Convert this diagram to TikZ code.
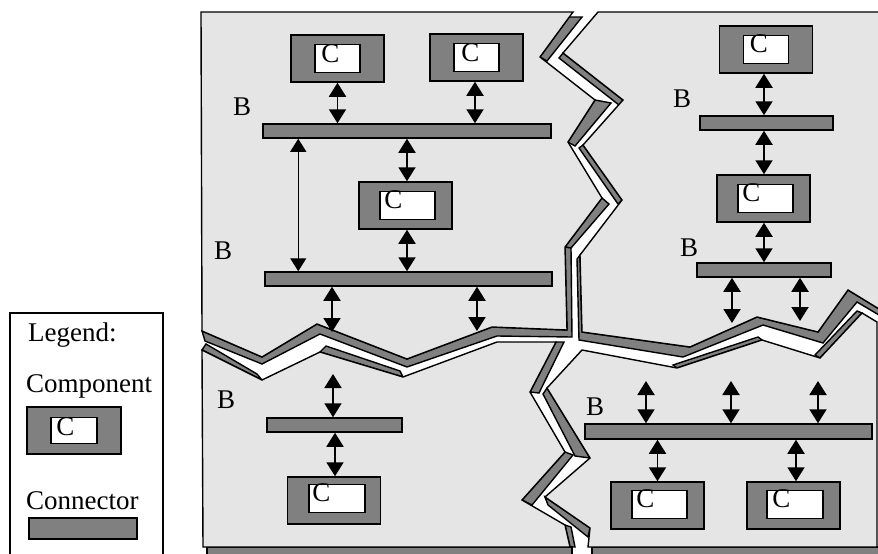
\documentclass[tikz,border=0pt]{standalone}
\usepackage{fontspec}
\setmainfont{Liberation Serif}
\usetikzlibrary{arrows.meta}

\definecolor{paneface}{RGB}{229,229,229}
\definecolor{panedark}{RGB}{128,128,128}

\tikzset{
  face/.style={fill=paneface, draw=black, line width=1.4pt, line join=miter},
  band/.style={fill=panedark, draw=black, line width=1.4pt, line join=miter},
  compbox/.style={draw=black, line width=1.5pt, fill=panedark, minimum width=93pt, minimum height=47pt, inner sep=0pt},
  compin/.style={draw=black, line width=1.5pt, fill=white, minimum height=28pt, inner sep=0pt},
  busbar/.style={draw=black, line width=1.5pt, fill=panedark, minimum height=14pt, inner sep=0pt},
  lbl/.style={font=\fontsize{27}{31}\selectfont, inner sep=0pt, anchor=base west},
  link/.style={{Triangle[width=17pt,length=14pt]}-{Triangle[width=17pt,length=14pt]}, line width=1.9pt},
  longlink/.style={{Triangle[width=16pt,length=13pt]}-{Triangle[width=16pt,length=13pt]}, line width=1.1pt},
}

\begin{document}
\begin{tikzpicture}[x=1pt,y=-1pt]
\useasboundingbox (0,0) rectangle (878,554);
\fill[white] (0,0) rectangle (878,554);

% ---------- upper left piece ----------
\draw[band] (569,17) -- (582,17) -- (547,61) -- (540,57) -- cycle;
\draw[band] (595,100) -- (611,103) -- (575,146) -- (568,142) -- cycle;
\draw[band] (602,198) -- (609,204) -- (571,248) -- (565,247) -- cycle;
\draw[band] (565,247) -- (571,248) -- (572,337) -- (497,336) -- (407,367) -- (320,334)
  -- (262,364) -- (205,341) -- (202,331) -- (262,357) -- (317,324) -- (407,359)
  -- (492,327) -- (567,330) -- cycle;
\draw[face] (201,12) -- (573,12) -- (540,57) -- (595,100) -- (568,142) -- (602,198)
  -- (565,247) -- (567,330) -- (492,327) -- (407,359) -- (317,324) -- (262,357)
  -- (202,331) -- cycle;

% ---------- upper right piece ----------
\draw[band] (563,53) -- (623,100) -- (619,105) -- (559,58) -- cycle;
\draw[band] (583,145) -- (622,200) -- (618,204) -- (579,148) -- cycle;
\draw[band] (580,255) -- (577,259) -- (579,340) -- (683,357) -- (763,325) -- (823,343)
  -- (857,302) -- (884,318) -- (884,312) -- (848,290) -- (818,332) -- (757,317)
  -- (690,347) -- (582,332) -- cycle;
\draw[face] (598,12) -- (884,12) -- (884,312) -- (848,290) -- (818,332) -- (757,317)
  -- (690,347) -- (582,332) -- (580,255) -- (622,200) -- (583,145) -- (623,100)
  -- (563,53) -- cycle;

% ---------- lower left piece ----------
\draw[band] (202,350) -- (206,344) -- (257,374) -- (262,380) -- cycle;
\draw[band] (320,352) -- (326,346) -- (400,371) -- (403,377) -- cycle;
\draw[band] (556,342) -- (564,342) -- (539,393) -- (530,392) -- cycle;
\draw[band] (565,452) -- (573,455) -- (532,505) -- (522,500) -- cycle;
\draw[band] (565,525) -- (571,527) -- (575,547) -- (570,547) -- cycle;
\draw[band] (207,547) rectangle (572,560);
\draw[face] (202,350) -- (262,380) -- (320,352) -- (403,377) -- (497,342) -- (556,342)
  -- (530,392) -- (565,452) -- (522,500) -- (565,525) -- (570,547) -- (203,547) -- cycle;

% ---------- lower right piece ----------
\draw[band] (677,368) -- (673,365) -- (758,337) -- (762,340) -- cycle;
\draw[band] (820,358) -- (815,355) -- (857,311) -- (862,313) -- cycle;
\draw[band] (547,388) -- (543,394) -- (575,456) -- (590,458) -- cycle;
\draw[band] (545,497) -- (548,505) -- (588,537) -- (590,528) -- cycle;
\draw[band] (592,547) rectangle (884,560);
\draw[face] (582,350) -- (677,368) -- (762,340) -- (820,358) -- (862,313) -- (877,322)
  -- (877,547) -- (588,547) -- (590,528) -- (545,497) -- (590,458) -- (547,388) -- cycle;

% ---------- upper left: components and connectors ----------
\node[compbox] (cA) at (337.5,58.5) {};
\node[compin, minimum width=45pt] (cAi) at (cA.center) {};
\node[lbl] at ([xshift=7pt,yshift=-19pt]cAi.north west) {C};
\node[compbox] (cB) at (476.5,57.5) {};
\node[compin, minimum width=45pt] (cBi) at (cB.center) {};
\node[lbl] at ([xshift=8pt,yshift=-19pt]cBi.north west) {C};
\node[compbox] (cC) at (405.5,205.5) {};
\node[compin, minimum width=55pt] (cCi) at ([xshift=2pt]cC.center) {};
\node[lbl] at ([xshift=5pt,yshift=-18pt]cCi.north west) {C};
\node[busbar, minimum width=288pt] (bus1) at (407,131) {};
\node[busbar, minimum width=287pt] (bus2) at (408.5,279) {};
\node[lbl] at (233,115) {B};
\node[lbl] at (214,259) {B};
\draw[link] (cA.south) -- (cA.south |- bus1.north);
\draw[link] ([xshift=-1.5pt]cB.south) -- ([xshift=-1.5pt]cB.south |- bus1.north);
\draw[link] ([xshift=1.5pt]cC.north |- bus1.south) -- ([xshift=1.5pt]cC.north);
\draw[link] ([xshift=1.5pt]cC.south) -- ([xshift=1.5pt]cC.south |- bus2.north);
\draw[longlink] ([xshift=36pt]bus1.south west) -- ([xshift=34pt]bus2.north west);
\coordinate (e1) at (332,332);
\coordinate (e2) at (477,331);
\draw[link] (bus2.south -| e1) -- (e1);
\draw[link] (bus2.south -| e2) -- (e2);

% ---------- upper right: components and connectors ----------
\node[compbox] (cD) at (766,49.5) {};
\node[compin, minimum width=45pt] (cDi) at (cD.center) {};
\node[lbl] at ([xshift=7pt,yshift=-18pt]cDi.north west) {C};
\node[compbox] (cE) at (763.5,198.5) {};
\node[compin, minimum width=55pt] (cEi) at ([xshift=2pt]cE.center) {};
\node[lbl] at ([xshift=5pt,yshift=-18pt]cEi.north west) {C};
\node[busbar, minimum width=133pt] (bus3) at (766.5,123) {};
\node[busbar, minimum width=134pt] (bus4) at (764,270) {};
\node[lbl] at (673,107) {B};
\node[lbl] at (680,256) {B};
\draw[link] ([xshift=-2pt]cD.south) -- ([xshift=-2pt]cD.south |- bus3.north);
\draw[link] ([xshift=0.5pt]cE.north |- bus3.south) -- ([xshift=0.5pt]cE.north);
\draw[link] ([xshift=0.5pt]cE.south) -- ([xshift=0.5pt]cE.south |- bus4.north);
\coordinate (e3) at (732,323);
\coordinate (e4) at (800,321);
\draw[link] (bus4.south -| e3) -- (e3);
\draw[link] (bus4.south -| e4) -- (e4);

% ---------- lower left: components and connectors ----------
\node[compbox] (cF) at (334,500.5) {};
\node[compin, minimum width=56pt] (cFi) at ([xshift=3pt,yshift=2pt]cF.center) {};
\node[lbl] at ([xshift=4pt,yshift=-18pt]cFi.north west) {C};
\node[busbar, minimum width=135pt] (bus5) at (334.5,425) {};
\node[lbl] at (217,408) {B};
\coordinate (e5) at (333,374);
\draw[link] (e5) -- (e5 |- bus5.north);
\draw[link] ([xshift=1pt]cF.north |- bus5.south) -- ([xshift=1pt]cF.north);

% ---------- lower right: components and connectors ----------
\node[compbox] (cG) at (657.5,505.5) {};
\node[compin, minimum width=55pt] (cGi) at ([xshift=2pt,yshift=1pt]cG.center) {};
\node[lbl] at ([xshift=5pt,yshift=-18pt]cGi.north west) {C};
\node[compbox] (cH) at (793.5,505.5) {};
\node[compin, minimum width=56pt] (cHi) at ([xshift=1.5pt,yshift=1pt]cH.center) {};
\node[lbl] at ([xshift=6pt,yshift=-18pt]cHi.north west) {C};
\node[busbar, minimum width=287pt, minimum height=15pt] (bus6) at (728.5,431.5) {};
\node[lbl] at (586,415) {B};
\coordinate (e6) at (646,381);
\coordinate (e7) at (731,381);
\coordinate (e8) at (818,381);
\draw[link] (e6) -- (e6 |- bus6.north);
\draw[link] (e7) -- (e7 |- bus6.north);
\draw[link] (e8) -- (e8 |- bus6.north);
\draw[link] (cG.north |- bus6.south) -- (cG.north);
\draw[link] ([xshift=2.5pt]cH.north |- bus6.south) -- ([xshift=2.5pt]cH.north);

% ---------- legend ----------
\draw[line width=1.1pt] (10,560) -- (10,313) -- (163,313) -- (163,560);
\node[lbl] at (28,341) {Legend:};
\node[lbl] at (26,392) {Component};
\node[compbox, minimum width=94pt] (lc) at (74,430.5) {};
\node[compin, minimum width=46pt, minimum height=26pt] (lci) at (lc.center) {};
\node[lbl] at ([xshift=6pt,yshift=-19pt]lci.north west) {C};
\node[lbl] at (26,509) {Connector};
\node[busbar, minimum width=108pt, minimum height=21pt] (lb) at (83,528.5) {};
\end{tikzpicture}
\end{document}
